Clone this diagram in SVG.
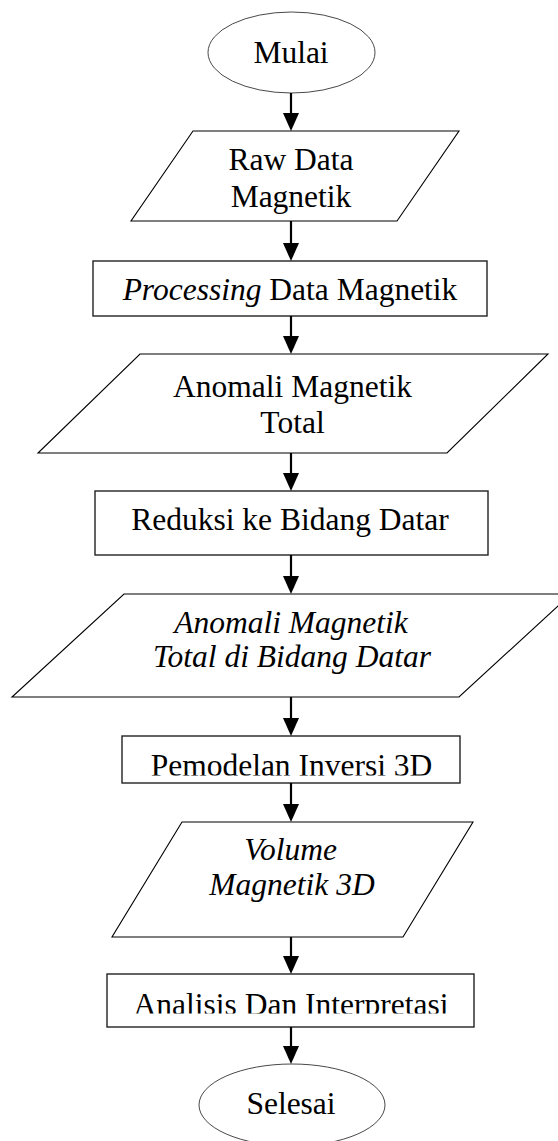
<svg xmlns="http://www.w3.org/2000/svg" width="558" height="1141" viewBox="0 0 558 1141">
<style>
  .t { font-family: "Liberation Serif", "Times New Roman", serif; font-size: 31.5px; fill: #000; text-anchor: middle; }
  .i { font-style: italic; }
  .term { fill: #fff; stroke: #333; stroke-width: 0.9; }
  .proc { fill: #fff; stroke: #222; stroke-width: 1.4; }
  .io { fill: #fff; stroke: #000; stroke-width: 1.1; stroke-linejoin: miter; }
  .conn line { stroke: #000; stroke-width: 2.2; }
</style>
<defs>
  <marker id="ah" markerUnits="userSpaceOnUse" markerWidth="19" markerHeight="17" refX="14" refY="8" orient="auto">
    <path d="M0,0 L18,8 L0,16 z" fill="#000"/>
  </marker>
  <clipPath id="clipPem"><rect x="122" y="736" width="338" height="39.5"/></clipPath>
  <clipPath id="clipAna"><rect x="107" y="974" width="367" height="39.5"/></clipPath>
</defs>
<rect width="558" height="1141" fill="#fff"/>

<g id="mulai">
  <ellipse class="term" cx="291.5" cy="52.5" rx="83.5" ry="40.5"/>
  <text class="t" x="291" y="63">Mulai</text>
</g>

<g id="raw-data">
  <polygon class="io" points="193,131 459,131 397,221 131,221"/>
  <text class="t" x="291" y="170">Raw Data</text>
  <text class="t" x="291" y="207">Magnetik</text>
</g>

<g id="processing">
  <rect class="proc" x="93" y="261" width="394" height="55"/>
  <text class="t" x="290" y="300"><tspan class="i">Processing</tspan> Data Magnetik</text>
</g>

<g id="anomali-total">
  <polygon class="io" points="140,354 548,354 447,453 38,453"/>
  <text class="t" x="292.5" y="397">Anomali Magnetik</text>
  <text class="t" x="292.5" y="433">Total</text>
</g>

<g id="reduksi">
  <rect class="proc" x="95" y="491" width="393" height="64"/>
  <text class="t" x="290" y="530">Reduksi ke Bidang Datar</text>
</g>

<g id="anomali-bidang">
  <polygon class="io" points="124,594 571,594 459,697 12,697"/>
  <text class="t i" x="291" y="633">Anomali Magnetik</text>
  <text class="t i" x="292" y="667">Total di Bidang Datar</text>
</g>

<g id="pemodelan">
  <rect class="proc" x="122" y="736" width="338" height="47"/>
  <text class="t" x="291.5" y="776" clip-path="url(#clipPem)">Pemodelan Inversi 3D</text>
</g>

<g id="volume">
  <polygon class="io" points="182,822 473,822 403,937 112,937"/>
  <text class="t i" x="290.5" y="860">Volume</text>
  <text class="t i" x="292" y="895">Magnetik 3D</text>
</g>

<g id="analisis">
  <rect class="proc" x="107" y="974" width="367" height="53"/>
  <text class="t" x="291" y="1015" clip-path="url(#clipAna)">Analisis Dan Interpretasi</text>
</g>

<g id="selesai">
  <ellipse class="term" cx="292" cy="1105" rx="93" ry="41"/>
  <text class="t" x="291" y="1114">Selesai</text>
</g>

<g id="connectors" class="conn">
  <line x1="291" y1="93" x2="291" y2="127" marker-end="url(#ah)"/>
  <line x1="291" y1="221" x2="291" y2="257" marker-end="url(#ah)"/>
  <line x1="291" y1="316" x2="291" y2="350" marker-end="url(#ah)"/>
  <line x1="291" y1="453" x2="291" y2="487" marker-end="url(#ah)"/>
  <line x1="291" y1="555" x2="291" y2="590" marker-end="url(#ah)"/>
  <line x1="291" y1="697" x2="291" y2="732" marker-end="url(#ah)"/>
  <line x1="291" y1="783" x2="291" y2="818" marker-end="url(#ah)"/>
  <line x1="291" y1="937" x2="291" y2="970" marker-end="url(#ah)"/>
  <line x1="291" y1="1027" x2="291" y2="1060" marker-end="url(#ah)"/>
</g>
</svg>
